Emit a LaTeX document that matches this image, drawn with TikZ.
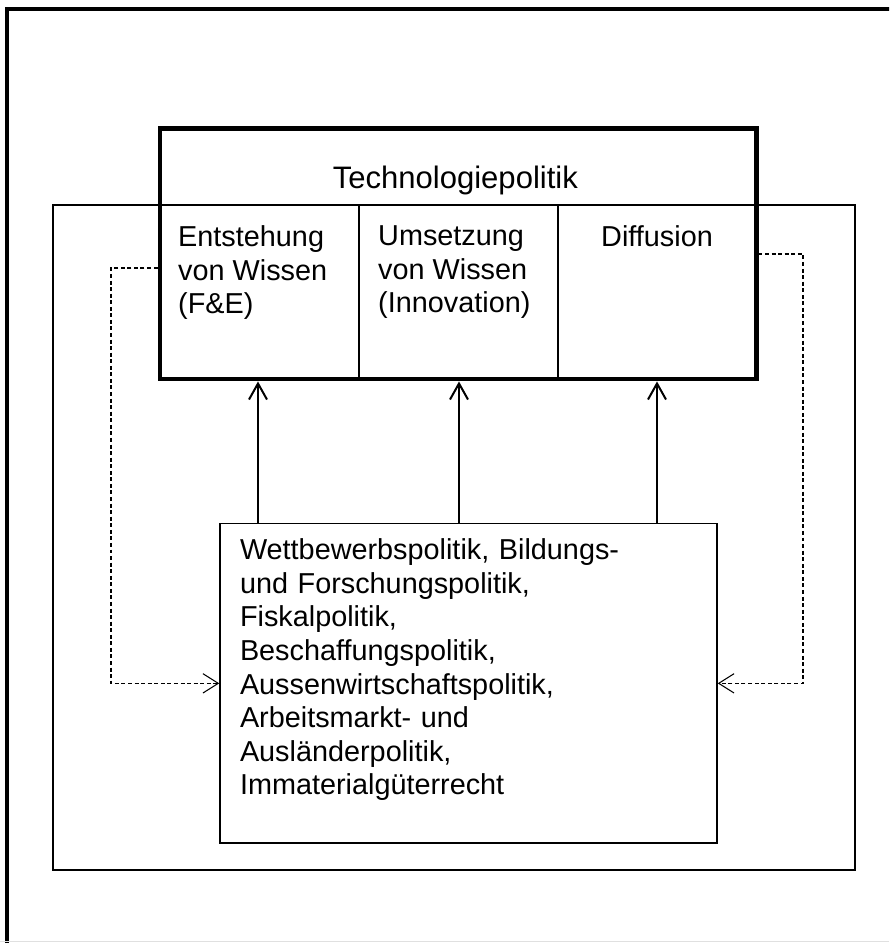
\documentclass[tikz,border=0pt]{standalone}
\usepackage{fontspec}
\setmainfont{Liberation Sans}
\usepackage{tikz}
\usetikzlibrary{arrows.meta,calc,positioning}
\newcommand{\bodyfont}{\fontsize{24.6}{28.7}\selectfont}
\newcommand{\titlefont}{\fontsize{26.5}{31.5}\selectfont}
\tikzset{
  frame line/.style={black, line width=3.4pt},
  thin box/.style={draw=black, line width=1.25pt, rectangle, inner sep=0pt},
  thick box/.style={draw=black, line width=4.25pt, rectangle, inner sep=0pt},
  separator line/.style={black, line width=1.1pt},
  policy arrow/.style={
      line width=1.7pt,
        -{Straight Barb[length=4.8mm,width=5.4mm]}
    },
  feedback arrow/.style={
      line width=0.9pt, dash pattern=on 3.4pt off 2.2pt,
        -{Straight Barb[length=4.6mm,width=5.8mm]}
    },
  column text/.style={
      anchor=north west,
      align=left,
      inner sep=0pt,
      font=\bodyfont
    }
}

\begin{document}
\begin{tikzpicture}

  \useasboundingbox (0,0) rectangle (26.67,28.29);
  \clip (0,0) rectangle (26.67,28.29);

  % ------------------------------------------------------------------
  % Outer frame, cut off at the right and at the bottom.
  % ------------------------------------------------------------------
  \draw[frame line] (0.21,-0.5) -- (0.21,28.02) -- (27.5,28.02);
  \draw[black!12, line width=0.6pt] (0,0.04) -- (26.67,0.04);

  % ------------------------------------------------------------------
  % Policy area and the technology policy box.
  % ------------------------------------------------------------------
  \node[thin box, minimum width=24.06cm, minimum height=19.95cm]
  (policyarea) at (13.62,12.165) {};

  \node[thick box, minimum width=17.88cm, minimum height=7.5cm]
  (techbox) at (13.74,20.67) {};

  \node[font=\titlefont, anchor=base] (techtitle) at (13.66,22.62)
  {Technologiepolitik};

  \coordinate (sepA) at (10.77,22.14);
  \coordinate (sepB) at (16.74,22.14);

  \draw[separator line] (sepA) -- (sepA |- techbox.south);
  \draw[separator line] (sepB) -- (sepB |- techbox.south);

  \node[column text] (creation) at (5.34,21.53)
  {Entstehung\\von Wissen\\(F\&E)};
  \node[column text] (transfer) at (11.34,21.53)
  {Umsetzung\\von Wissen\\(Innovation)};
  \node[column text] (diffusion) at (18.03,21.53) {Diffusion};

  % ------------------------------------------------------------------
  % Instruments of the other policy fields.
  % ------------------------------------------------------------------
  \node[thin box, anchor=north, minimum width=14.91cm,
    text width=13.71cm, inner xsep=0.6cm, inner ysep=0.45cm,
    align=left, font=\bodyfont]
  (instruments) at (14.055,12.6) {%
    Wettbewerbspolitik, Bildungs-\\
    und Forschungspolitik,\\
    Fiskalpolitik,\\
    Beschaffungspolitik,\\
    Aussenwirtschaftspolitik,\\
    Arbeitsmarkt- und\\
    Ausländerpolitik,\\
    Immaterialgüterrecht\rule[-0.99cm]{0pt}{0pt}};

  \coordinate (arrA) at (7.74,0);
  \coordinate (arrB) at (13.77,0);
  \coordinate (arrC) at (19.71,0);

  \draw[policy arrow] (instruments.north -| arrA) -- (techbox.south -| arrA);
  \draw[policy arrow] (instruments.north -| arrB) -- (techbox.south -| arrB);
  \draw[policy arrow] (instruments.north -| arrC) -- (techbox.south -| arrC);

  % ------------------------------------------------------------------
  % Dashed feedback links.
  % ------------------------------------------------------------------
  \coordinate (bendL) at (3.33,20.25);
  \coordinate (bendR) at (24.09,20.67);

  \draw[feedback arrow] (techbox.west |- bendL) -- (bendL) |- (instruments.west);
  \draw[feedback arrow] (techbox.east) -- (bendR) |- (instruments.east);

\end{tikzpicture}
\end{document}
